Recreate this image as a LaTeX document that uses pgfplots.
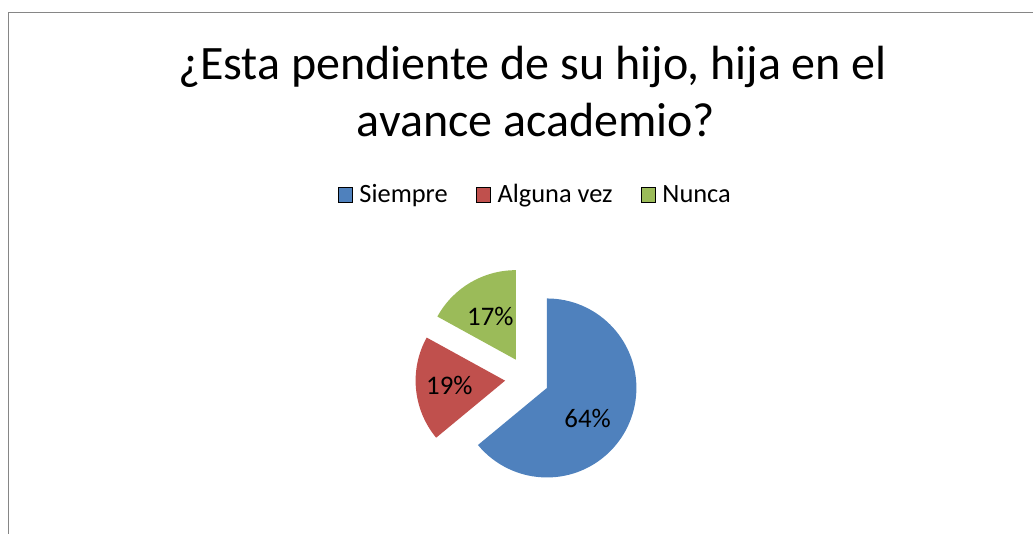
\documentclass[border=0pt]{standalone}
\usepackage{fontspec}
\setmainfont{Carlito}
\usepackage{pgfplots}
\pgfplotsset{compat=1.18}

\definecolor{cblue}{RGB}{79,129,189}
\definecolor{cred}{RGB}{192,80,77}
\definecolor{cgreen}{RGB}{155,187,89}
\definecolor{framegray}{RGB}{134,134,134}

% slice values (percent): Siempre, Alguna vez, Nunca
\def\vA{64}
\def\vB{19}
\def\vC{17}
% start / end / mid angles, clockwise from 12 o'clock
\pgfmathsetmacro\sA{90}
\pgfmathsetmacro\eA{\sA-3.6*\vA}
\pgfmathsetmacro\mA{(\sA+\eA)/2}
\pgfmathsetmacro\sB{\eA}
\pgfmathsetmacro\eB{\sB-3.6*\vB}
\pgfmathsetmacro\mB{(\sB+\eB)/2}
\pgfmathsetmacro\sC{\eB}
\pgfmathsetmacro\eC{\sC-3.6*\vC}
\pgfmathsetmacro\mC{(\sC+\eC)/2}

\def\R{44.75pt}
\def\ex{11pt}

\pgfplotsset{sqleg/.style={legend image code/.code={\fill[##1] (0pt,0pt) rectangle (7.2pt,7.2pt);}}}

\begin{document}
\begin{tikzpicture}
\path[use as bounding box] (0,0) rectangle (516.5pt,267pt);
\begin{axis}[at={(0,0)}, anchor=south west, scale only axis,
  width=516.5pt, height=267pt, xmin=0, xmax=1033, ymin=0, ymax=534,
  hide axis, clip=false,
  legend columns=-1,
  legend style={at={(0.3265,0.6358)}, anchor=west, draw=none, fill=none,
    inner sep=0pt, font=\fontsize{13.2}{15}\selectfont,
    nodes={inner sep=0pt, anchor=base west},
    /tikz/every odd column/.append style={column sep=3.3pt},
    /tikz/every even column/.append style={column sep=14pt}}]
% frame (left and top edges visible)
\draw[framegray, line width=0.7pt] (axis cs:8.2,0) -- (axis cs:8.2,521.2) -- (axis cs:1033,521.2);
% exploded pie
\fill[cblue] (axis cs:527,155.4) ++(\mA:\ex) -- ++(\sA:\R) arc[start angle=\sA, end angle=\eA, radius=\R] -- cycle;
\fill[cred] (axis cs:527,155.4) ++(\mB:\ex) -- ++(\sB:\R) arc[start angle=\sB, end angle=\eB, radius=\R] -- cycle;
\fill[cgreen] (axis cs:527,155.4) ++(\mC:\ex) -- ++(\sC:\R) arc[start angle=\sC, end angle=\eC, radius=\R] -- cycle;
% data labels
\path (axis cs:527,155.4) ++(\mA:\ex) ++(\mA-11.8:25.5pt) node[font=\fontsize{13.4}{15}\selectfont] {\vA\%};
\path (axis cs:527,155.4) ++(\mB:\ex) ++(\mB:28pt) node[font=\fontsize{13.4}{15}\selectfont] {\vB\%};
\path (axis cs:527,155.4) ++(\mC:\ex) ++(\mC:25pt) node[font=\fontsize{13.4}{15}\selectfont] {\vC\%};
% title
\node[anchor=base, font=\fontsize{24}{28}\selectfont] at (axis cs:532.5,454.7) {¿Esta pendiente de su hijo, hija en el};
\node[anchor=base, font=\fontsize{24}{28}\selectfont] at (axis cs:536,397.3) {avance academio?};
\addlegendimage{sqleg, fill=cblue}
\addlegendimage{sqleg, fill=cred}
\addlegendimage{sqleg, fill=cgreen}
\legend{Siempre, Alguna vez, Nunca}
\end{axis}
\end{tikzpicture}
\end{document}
